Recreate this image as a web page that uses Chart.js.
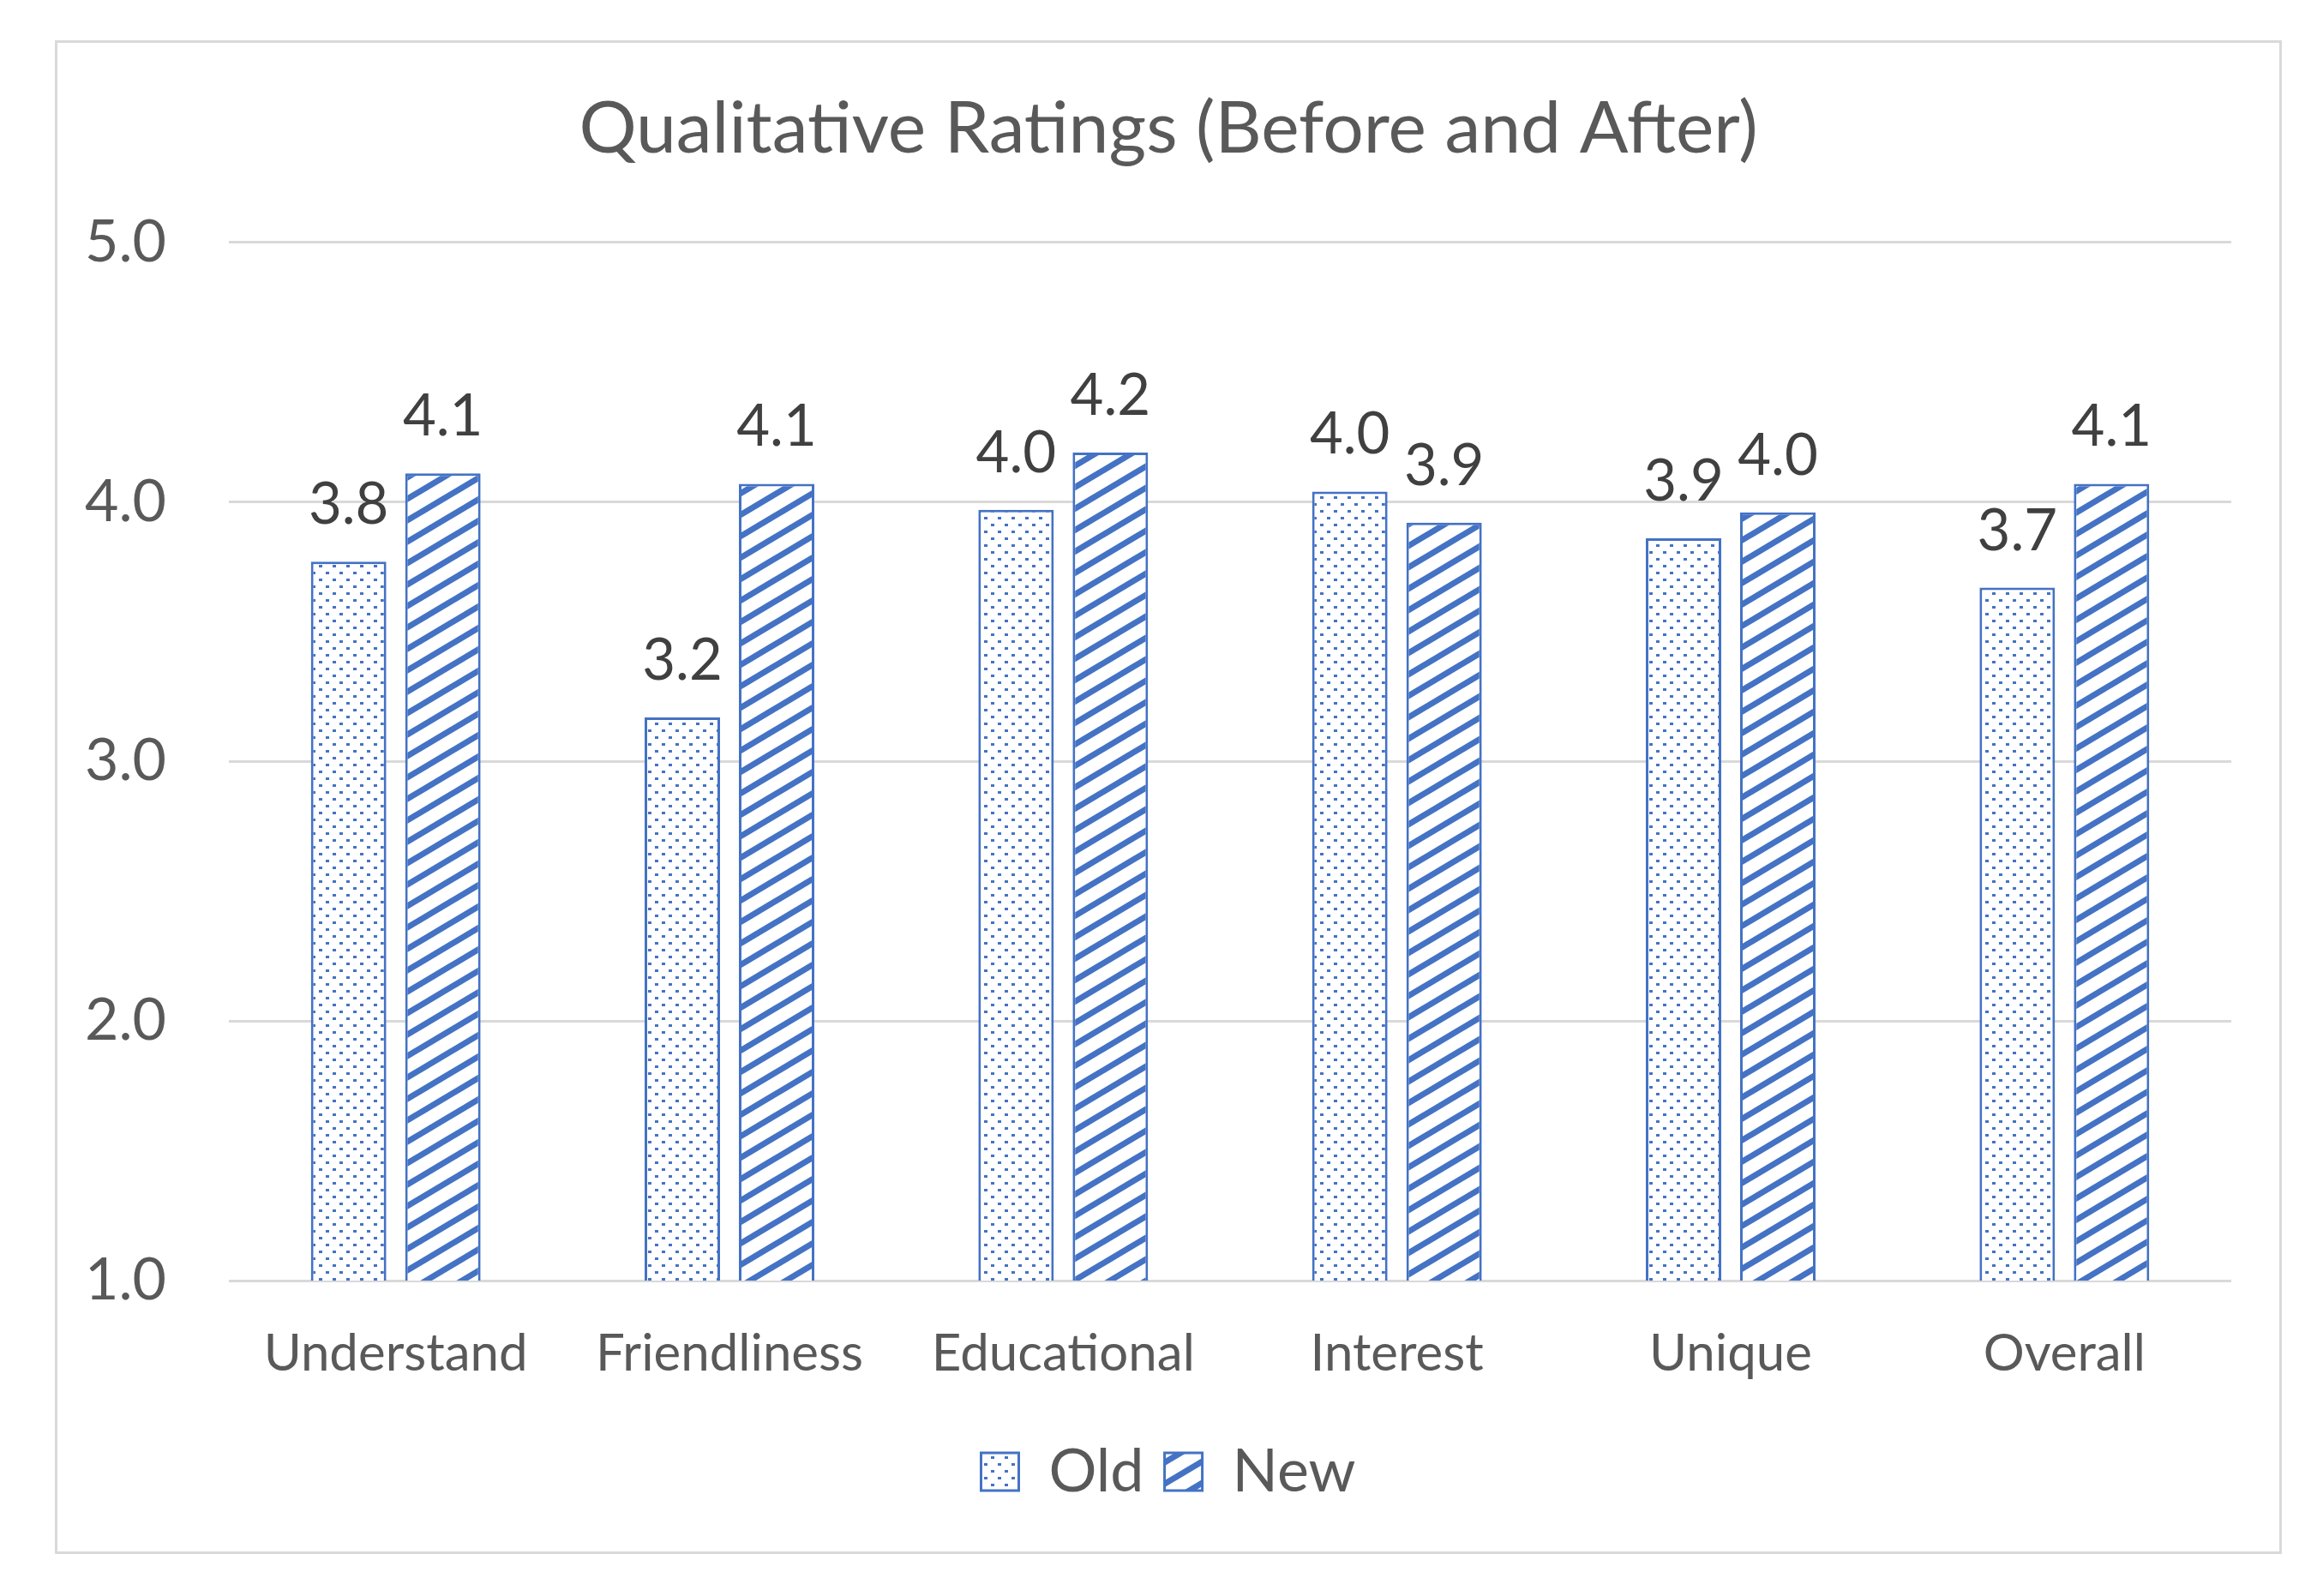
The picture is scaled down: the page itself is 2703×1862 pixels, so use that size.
<!DOCTYPE html>
<html>
<head>
<meta charset="utf-8">
<script src="https://cdn.jsdelivr.net/npm/chart.js@4"></script>
<style>
  html, body { margin: 0; padding: 0; background: #fff; }
  #frame {
    position: absolute; left: 64px; top: 47px;
    width: 2598px; height: 1766px;
    box-sizing: border-box; border: 3px solid #d9d9d9;
  }
</style>
</head>
<body>
<div id="frame"><canvas id="ratings"></canvas></div>
<script>
const categories = ['Understand', 'Friendliness', 'Educational', 'Interest', 'Unique', 'Overall']
const oldRatings = [3.77, 3.17, 3.97, 4.04, 3.86, 3.67]
const newRatings = [4.11, 4.07, 4.19, 3.92, 3.96, 4.07]
const yTicks = [1, 2, 3, 4, 5]

const BLUE = '#4472C4'
const TEXT = '#595959'
const FONT = 'Lato'

// dotted fill for "Old"
function dotPattern() {
  const c = document.createElement('canvas')
  c.width = 16
  c.height = 16
  const g = c.getContext('2d')
  g.fillStyle = '#fff'
  g.fillRect(0, 0, 16, 16)
  g.fillStyle = BLUE
  g.fillRect(1, 1, 4, 3)
  g.fillRect(9, 9, 4, 3)
  return g.createPattern(c, 'repeat')
}

// upward diagonal stripes for "New"
function stripePattern() {
  const w = 42, h = 25
  const c = document.createElement('canvas')
  c.width = w
  c.height = h
  const g = c.getContext('2d')
  g.fillStyle = '#fff'
  g.fillRect(0, 0, w, h)
  g.strokeStyle = BLUE
  g.lineWidth = 7
  for (let k = -1; k <= 1; k++) {
    g.beginPath()
    g.moveTo(-w, 2 * h + k * h)
    g.lineTo(2 * w, -h + k * h)
    g.stroke()
  }
  return g.createPattern(c, 'repeat')
}

const valueLabels = {
  id: 'valueLabels',
  afterDatasetsDraw(chart) {
    const ctx = chart.ctx
    ctx.save()
    ctx.font = '67px ' + FONT
    ctx.fillStyle = '#404040'
    ctx.textAlign = 'center'
    ctx.textBaseline = 'alphabetic'
    chart.data.datasets.forEach((ds, i) => {
      chart.getDatasetMeta(i).data.forEach((bar, j) => {
        ctx.fillText(ds.data[j].toFixed(1), bar.x, bar.y - 44)
      })
    })
    ctx.restore()
  },
}

const ctxRatings = document.getElementById('ratings').getContext('2d')

const configRatings = {
  type: 'bar',
  data: {
    labels: categories,
    datasets: [
      {
        label: 'Old',
        data: oldRatings,
        backgroundColor: dotPattern(),
        borderColor: BLUE,
        borderWidth: 3,
        borderSkipped: false,
      },
      {
        label: 'New',
        data: newRatings,
        backgroundColor: stripePattern(),
        borderColor: BLUE,
        borderWidth: 3,
        borderSkipped: false,
      },
    ],
  },
  options: {
    responsive: true,
    maintainAspectRatio: false,
    animation: false,
    categoryPercentage: 0.565,
    barPercentage: 0.8,
    layout: {
      padding: { left: 0, right: 0, top: 0, bottom: 48 },
    },
    plugins: {
      title: {
        display: true,
        text: 'Qualitative Ratings (Before and After)',
        color: TEXT,
        font: { family: FONT, size: 84, weight: 'normal' },
        padding: { top: 51, bottom: 81 },
      },
      legend: {
        position: 'bottom',
        labels: {
          color: TEXT,
          font: { family: FONT, size: 70 },
          boxWidth: 44,
          boxHeight: 44,
          padding: 24,
        },
      },
      tooltip: { enabled: false },
    },
    scales: {
      x: {
        grid: { display: false },
        border: { display: false },
        ticks: {
          color: TEXT,
          font: { family: FONT, size: 60 },
          padding: 42,
        },
      },
      y: {
        min: 1,
        max: 5,
        afterFit: scale => {
          scale.width = 200
        },
        afterBuildTicks: scale => {
          scale.ticks = yTicks.map(v => ({ value: v }))
        },
        grid: { color: '#d9d9d9', lineWidth: 3, drawTicks: false },
        border: { display: false },
        ticks: {
          color: TEXT,
          font: { family: FONT, size: 68 },
          padding: 73,
          callback: value => value.toFixed(1),
        },
      },
      // empty right gutter so title and legend stay centred on the whole frame
      gutter: {
        position: 'right',
        grid: { display: false },
        border: { display: false },
        ticks: { display: false },
        afterFit: scale => {
          scale.width = 56
        },
      },
    },
  },
  plugins: [valueLabels],
}
const RatingsChart = new Chart(ctxRatings, configRatings)
</script>
</body>
</html>
